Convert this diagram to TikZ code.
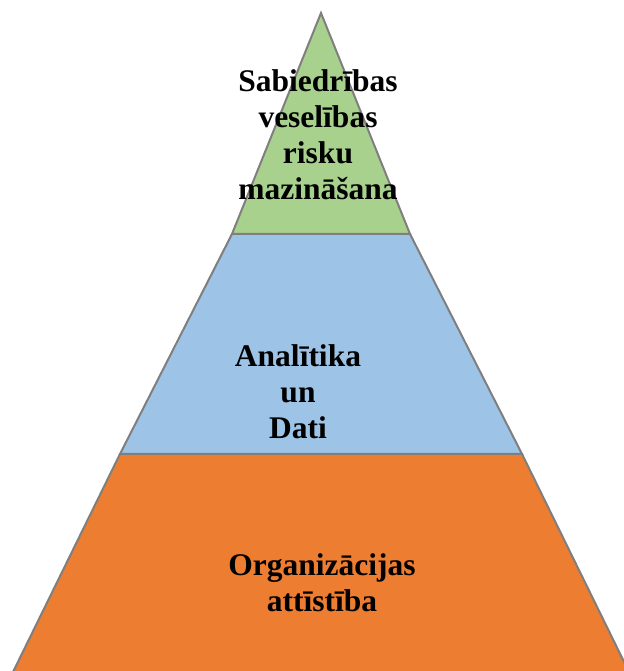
\documentclass[tikz,border=0pt]{standalone}
\usepackage{fontspec}
\setmainfont{Liberation Serif}
\usetikzlibrary{positioning}

\definecolor{levelgreen}{HTML}{A9D18E}
\definecolor{levelblue}{HTML}{9DC3E6}
\definecolor{levelorange}{HTML}{ED7D31}
\definecolor{edgegray}{HTML}{7F7F7F}

\begin{document}
\begin{tikzpicture}[
  x=1pt, y=1pt,
  level/.style={draw=edgegray, line width=2pt, line join=miter},
  lbl/.style={align=center, font=\fontsize{31.5}{36}\selectfont\bfseries, inner sep=0pt}
]
  \useasboundingbox (0,0) rectangle (623,671);

  % corners of the pyramid
  \coordinate (apex) at (321,658);
  \coordinate (tl) at (232,437);
  \coordinate (tr) at (410,437);
  \coordinate (ml) at (120,217);
  \coordinate (mr) at (522,217);
  \coordinate (bl) at (12,-3);
  \coordinate (br) at (630,-3);

  \filldraw[level, fill=levelorange] (ml) -- (mr) -- (br) -- (bl) -- cycle;
  \filldraw[level, fill=levelblue] (tl) -- (tr) -- (mr) -- (ml) -- cycle;
  \filldraw[level, fill=levelgreen] (apex) -- (tr) -- (tl) -- cycle;

  \node[lbl] (risk) at (318,536) {Sabiedrības\\veselības\\risku\\mazināšana};
  \node[lbl] (data) at (298,279) {Analītika\\un\\Dati};
  \node[lbl] (org) at (322,88) {Organizācijas\\attīstība};
\end{tikzpicture}
\end{document}
